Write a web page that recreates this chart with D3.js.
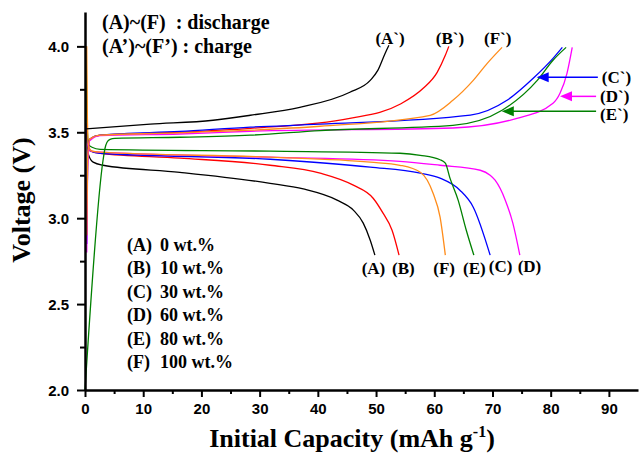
<!DOCTYPE html>
<html lang="en">
  <head>
    <meta charset="UTF-8" />
    <title>Initial capacity</title>
    <style>
      body { margin: 0; background: #fff; }
      text { font-family: "Liberation Serif", "Times New Roman", serif; font-weight: bold; }
      .tick text { font-family: "Liberation Sans", Arial, sans-serif; font-size: 15px; font-weight: bold; }
    </style>
  </head>
  <body>
    <svg id="svg" width="639" height="454"></svg>
    <script src="https://d3js.org/d3.v7.min.js"></script>
    <script>
      // [capacity (mAh/g), voltage (V)]
      const dischargeA = [[0.3,3.50],[0.6,3.37],[1.4,3.326],[3.1,3.308],[16.3,3.267],[31.8,3.203],[37.5,3.17],[43.3,3.105],[46.1,3.047],[47.8,2.971],[49.0,2.872],[49.8,2.785]];
      const dischargeB = [[0.3,3.55],[0.5,3.42],[1.0,3.39],[2.6,3.378],[16.3,3.35],[31.8,3.308],[40.4,3.262],[46.1,3.192],[49.5,3.116],[51.2,3.029],[52.75,2.93],[53.95,2.785]];
      const dischargeC = [[0.3,3.55],[0.5,3.42],[1.0,3.39],[2.6,3.378],[31.8,3.343],[49.0,3.297],[57.6,3.262],[61.0,3.233],[64.4,3.163],[66.7,3.064],[69.6,2.785]];
      const dischargeD = [[0.3,3.55],[0.5,3.42],[1.0,3.39],[2.6,3.384],[31.8,3.355],[54.1,3.331],[61.0,3.308],[67.9,3.279],[69.6,3.25],[70.45,3.221],[72.2,3.105],[73.5,2.971],[74.7,2.785]];
      const dischargeE = [[0.2,4.0],[0.3,3.6],[0.6,3.43],[1.2,3.413],[2.6,3.401],[31.8,3.39],[54.1,3.378],[57.6,3.366],[61.0,3.34],[61.9,3.32],[62.7,3.233],[64.1,3.105],[65.5,2.93],[66.8,2.785]];
      const dischargeF = [[0.3,4.0],[0.4,3.6],[0.6,3.42],[1.2,3.39],[2.6,3.384],[31.8,3.355],[49.0,3.326],[54.1,3.308],[57.6,3.267],[58.8,3.221],[59.8,3.145],[61.0,3.006],[61.9,2.785]];

      const chargeA = [[0.2,3.52],[11.2,3.547],[22.0,3.57],[28.4,3.599],[36.9,3.645],[45.5,3.733],[49.0,3.802],[50.3,3.86],[51.55,3.959],[52.2,4.006]];
      const chargeB = [[0.3,2.9],[0.45,3.35],[0.8,3.46],[2.6,3.483],[16.3,3.50],[28.4,3.523],[45.5,3.581],[54.1,3.663],[58.1,3.756],[60.5,3.849],[61.9,3.948],[62.5,4.0]];
      const chargeC = [[0.3,2.85],[0.45,3.35],[0.8,3.46],[2.6,3.483],[16.3,3.505],[28.4,3.53],[40.4,3.547],[66.2,3.60],[72.5,3.686],[77.0,3.814],[80.4,3.93],[82.0,3.994]];
      const chargeD = [[0.3,2.8],[0.45,3.3],[0.8,3.45],[2.6,3.48],[16.3,3.49],[28.4,3.506],[63.2,3.525],[74.2,3.581],[80.4,3.669],[81.6,3.727],[82.8,3.843],[83.7,3.994]];
      const chargeE = [[0,2.0],[3.1,3.337],[3.44,3.407],[3.78,3.442],[4.3,3.459],[5.15,3.465],[16.3,3.471],[28.4,3.483],[40.4,3.51],[63.2,3.54],[71.65,3.628],[77.7,3.802],[80.4,3.919],[82.65,3.994]];
      const chargeF = [[0.3,2.9],[0.45,3.35],[0.8,3.46],[2.6,3.483],[16.3,3.497],[28.4,3.512],[40.4,3.535],[59.3,3.599],[63.2,3.686],[66.7,3.802],[69.1,3.901],[71.65,3.994]];

      const xTicks = [0, 10, 20, 30, 40, 50, 60, 70, 80, 90];
      const xMinor = [5, 15, 25, 35, 45, 55, 65, 75, 85];
      const yTicks = [2.0, 2.5, 3.0, 3.5, 4.0];
      const yMinor = [2.25, 2.75, 3.25, 3.75];
      const sampleNames = ["(A)", "(B)", "(C)", "(D)", "(E)", "(F)"];
      const sampleWt = ["0 wt.%", "10 wt.%", "30 wt.%", "60 wt.%", "80 wt.%", "100 wt.%"];
      const colors = ["#000000", "#ff0000", "#0000ff", "#ff00ff", "#008000", "#ff8c1a"];

      const serif = "'Liberation Serif', 'Times New Roman', serif";

      const svg = d3.select("#svg");
      const x = d3.scaleLinear().domain([0, 95]).range([85, 638]);
      const y = d3.scaleLinear().domain([2.0, 4.2]).range([390, 12]);

      const line = d3
        .line()
        .x((d) => x(d[0]))
        .y((d) => y(d[1]))
        .curve(d3.curveMonotoneX);

      const curves = [
        dischargeA, dischargeB, dischargeC, dischargeD, dischargeE, dischargeF,
        chargeA, chargeB, chargeC, chargeD, chargeE, chargeF,
      ];

      svg
        .append("g")
        .selectAll("path")
        .data(curves)
        .join("path")
        .attr("d", line)
        .attr("fill", "none")
        .attr("stroke", (d, i) => colors[i % 6])
        .attr("stroke-width", 1.3);

      // axes
      svg
        .append("g")
        .attr("transform", `translate(0, ${y(2.0)})`)
        .call(d3.axisBottom(x).tickValues(xTicks).tickSize(7).tickSizeOuter(0).tickPadding(6));
      svg
        .append("g")
        .attr("transform", `translate(0, ${y(2.0)})`)
        .call(d3.axisBottom(x).tickValues(xMinor).tickSize(4).tickFormat(""))
        .select(".domain")
        .remove();

      const yAxis = svg
        .append("g")
        .attr("transform", `translate(${x(0)}, 0)`)
        .call(d3.axisLeft(y).tickValues(yTicks).tickSize(8).tickSizeOuter(0).tickPadding(8).tickFormat(d3.format(".1f")));
      svg
        .append("g")
        .attr("transform", `translate(${x(0)}, 0)`)
        .call(d3.axisLeft(y).tickValues(yMinor).tickSize(5).tickFormat(""))
        .select(".domain")
        .remove();

      svg.selectAll(".domain").attr("stroke-width", 2.5);
      svg.selectAll(".tick line").attr("stroke-width", 2);
      yAxis.selectAll(".tick text").attr("dy", "0.35em");

      // axis titles
      const xTitle = svg
        .append("text")
        .attr("x", 352)
        .attr("y", 447)
        .attr("text-anchor", "middle")
        .attr("font-family", serif)
        .attr("font-size", 26);
      xTitle.append("tspan").text("Initial Capacity (mAh g");
      xTitle.append("tspan").attr("font-size", 16).attr("dy", -10).text("-1");
      xTitle.append("tspan").attr("dy", 10).text(")");

      svg
        .append("text")
        .attr("transform", "translate(30, 200) rotate(-90)")
        .attr("text-anchor", "middle")
        .attr("font-family", serif)
        .attr("font-size", 26)
        .text("Voltage (V)");

      // header legend
      svg.append("text").attr("x", 102).attr("y", 29).attr("font-size", 20)
        .attr("font-family", serif)
        .attr("xml:space", "preserve").text("(A)~(F)  : discharge");
      svg.append("text").attr("x", 102).attr("y", 53).attr("font-size", 20)
        .attr("font-family", serif)
        .text("(A\u2019)~(F\u2019) : charge");

      // sample legend
      const legend = svg.append("g").attr("font-family", serif);
      sampleNames.forEach((n, i) => {
        const t = legend.append("text").attr("y", 251 + i * 23.4).attr("font-size", 18);
        t.append("tspan").attr("x", 127).text(n);
        t.append("tspan").attr("x", 160).text(sampleWt[i]);
      });

      // curve labels
      const endLabels = [
        { t: "(A)", c: 49.55, v: 2.674 },
        { t: "(B)", c: 54.7, v: 2.674 },
        { t: "(F)", c: 61.7, v: 2.674 },
        { t: "(E)", c: 66.9, v: 2.674 },
        { t: "(C)", c: 71.4, v: 2.686 },
        { t: "(D)", c: 76.35, v: 2.686 },
        { t: "(A`)", c: 52.4, v: 4.012 },
        { t: "(B`)", c: 62.7, v: 4.012 },
        { t: "(F`)", c: 70.9, v: 4.012 },
      ];
      svg
        .append("g")
        .selectAll("text")
        .data(endLabels)
        .join("text")
        .attr("x", (d) => x(d.c))
        .attr("y", (d) => y(d.v))
        .attr("text-anchor", "middle")
        .attr("font-family", serif)
        .attr("font-size", 17)
        .text((d) => d.t);

      // arrow labels on the right
      const arrows = [
        { t: "(C`)", from: 88.1, to: 77.6, v: 3.82, tv: 3.785, color: colors[2] },
        { t: "(D`)", from: 87.8, to: 81.6, v: 3.709, tv: 3.674, color: colors[3] },
        { t: "(E`)", from: 87.8, to: 71.6, v: 3.622, tv: 3.57, color: colors[4] },
      ];
      const ag = svg.append("g");
      arrows.forEach((a) => {
        const x0 = x(a.from), x1 = x(a.to), yy = y(a.v);
        ag.append("line").attr("x1", x0).attr("x2", x1 + 8).attr("y1", yy).attr("y2", yy)
          .attr("stroke", a.color).attr("stroke-width", 1.5);
        ag.append("path")
          .attr("d", `M${x1},${yy}L${x1 + 12},${yy - 5}L${x1 + 12},${yy + 5}Z`)
          .attr("fill", a.color);
        ag.append("text").attr("x", x(a.from) + 4).attr("y", y(a.tv))
          .attr("font-family", serif).attr("font-size", 17).text(a.t);
      });
    </script>
  </body>
</html>
